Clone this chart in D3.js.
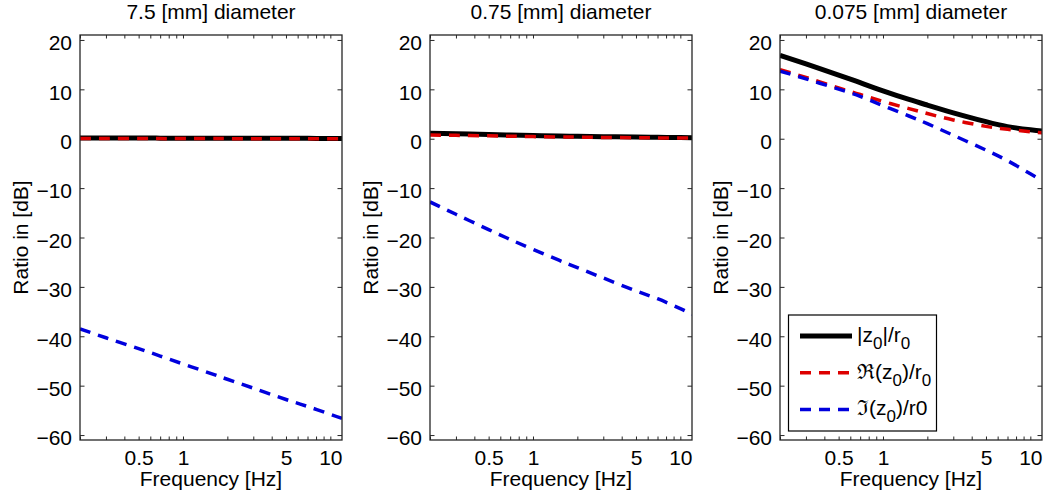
<!DOCTYPE html>
<html>
<head>
<meta charset="utf-8">
<script src="https://cdn.jsdelivr.net/npm/d3@7"></script>
<style>
  html, body { margin: 0; padding: 0; background: #fff; }
  svg { display: block; }
  text { font-family: "Liberation Sans", Arial, Helvetica, sans-serif; fill: #000; }
</style>
</head>
<body>
<svg id="chart" width="1046" height="496"></svg>
<script>
// ---------------- data ----------------
const freqs = [0.2, 0.3, 0.5, 0.7, 1, 1.5, 2, 3, 5, 7, 10, 12];
const titles = ["7.5 [mm] diameter", "0.75 [mm] diameter", "0.075 [mm] diameter"];

// 7.5 mm
const abs1 = [0.15, 0.15, 0.13, 0.12, 0.11, 0.1, 0.1, 0.09, 0.08, 0.07, 0.06, 0.06];
const re1  = [0.03, 0.03, 0.03, 0.02, 0.02, 0.02, 0.02, 0.01, 0.01, 0.01, 0.01, 0.01];
const im1  = [-38.5, -40.3, -42.5, -44.0, -45.6, -47.4, -48.7, -50.5, -52.8, -54.2, -55.8, -56.6];
// 0.75 mm
const abs2 = [1.1, 1.0, 0.85, 0.75, 0.65, 0.55, 0.5, 0.42, 0.33, 0.28, 0.24, 0.22];
const re2  = [0.75, 0.68, 0.58, 0.5, 0.43, 0.36, 0.32, 0.26, 0.2, 0.17, 0.14, 0.13];
const im2  = [-12.8, -15.3, -18.4, -20.4, -22.4, -24.6, -26.1, -28.2, -30.8, -32.4, -34.4, -35.6];
// 0.075 mm
const abs3 = [16.9, 15.14, 12.88, 11.35, 9.7, 7.95, 6.8, 5.25, 3.45, 2.45, 1.8, 1.55];
const re3  = [14.0, 12.4, 10.3, 8.95, 7.55, 6.1, 5.1, 3.8, 2.5, 1.9, 1.4, 1.2];
const im3  = [13.7, 12.12, 10.03, 8.57, 6.7, 4.6, 3.05, 0.7, -2.3, -4.45, -7.1, -8.5];

const yTicks = [-60, -50, -40, -30, -20, -10, 0, 10, 20];
const xMinorTicks = [0.2, 0.3, 0.4, 0.5, 0.6, 0.7, 0.8, 0.9, 1, 2, 3, 4, 5, 6, 7, 8, 9, 10];
const xLabelTicks = [0.5, 1, 5, 10];
const xDomain = [0.2, 12];
const yDomain = [-61, 21];

const panels = [
  { title: titles[0], abs: abs1, re: re1, im: im1 },
  { title: titles[1], abs: abs2, re: re2, im: im2 },
  { title: titles[2], abs: abs3, re: re3, im: im3 }
];

// ---------------- layout ----------------
const svg = d3.select("#chart");
const panelLefts = [80, 430, 780];
const pw = 262, plotTop = 35, plotBottom = 440;
const FS = 21;
const colors = { abs: "#000000", re: "#dd0000", im: "#0000dd" };
const axisColor = "#262626";

const y = d3.scaleLinear().domain(yDomain).range([plotBottom, plotTop]);

panels.forEach((p, i) => {
  const left = panelLefts[i];
  const x = d3.scaleLog().domain(xDomain).range([left, left + pw]);
  const g = svg.append("g");

  const clipId = "clip" + i;
  svg.append("clipPath").attr("id", clipId)
    .append("rect").attr("x", left).attr("y", plotTop).attr("width", pw).attr("height", plotBottom - plotTop);

  const xb = g.append("g").attr("transform", `translate(0,${plotBottom})`)
    .call(d3.axisBottom(x).tickValues(xMinorTicks).tickSize(-3.5).tickFormat(d => xLabelTicks.includes(d) ? d3.format("~g")(d) : ""));
  const xt = g.append("g").attr("transform", `translate(0,${plotTop})`)
    .call(d3.axisTop(x).tickValues(xMinorTicks).tickSize(-3.5).tickFormat(""));
  const yl = g.append("g").attr("transform", `translate(${left},0)`)
    .call(d3.axisLeft(y).tickValues(yTicks).tickSize(-4.5).tickFormat(d => d < 0 ? "\u2212" + Math.abs(d) : d));
  const yr = g.append("g").attr("transform", `translate(${left + pw},0)`)
    .call(d3.axisRight(y).tickValues(yTicks).tickSize(-4.5).tickFormat(""));

  [xb, xt, yl, yr].forEach(a => {
    a.select(".domain").remove();
    a.selectAll(".tick line").attr("stroke", axisColor).attr("stroke-width", 1);
  });
  xb.selectAll(".tick text")
    .attr("y", 25).attr("dy", null)
    .attr("font-size", FS).attr("font-family", "Liberation Sans, Arial, sans-serif").attr("fill", "#000");
  yl.selectAll(".tick text")
    .attr("x", -8).attr("dy", null).attr("y", 9.8)
    .attr("font-size", FS).attr("font-family", "Liberation Sans, Arial, sans-serif").attr("fill", "#000");

  const line = d3.line().x((d, j) => x(freqs[j])).y(d => y(d)).curve(d3.curveNatural);
  const lg = g.append("g").attr("clip-path", `url(#${clipId})`);
  lg.append("path").datum(p.abs).attr("d", line).attr("fill", "none")
    .attr("stroke", colors.abs).attr("stroke-width", 5);
  lg.append("path").datum(p.re).attr("d", line).attr("fill", "none")
    .attr("stroke", colors.re).attr("stroke-width", 3.5).attr("stroke-dasharray", "11,8");
  lg.append("path").datum(p.im).attr("d", line).attr("fill", "none")
    .attr("stroke", colors.im).attr("stroke-width", 3.5).attr("stroke-dasharray", "11,8");

  g.append("rect").attr("x", left).attr("y", plotTop).attr("width", pw).attr("height", plotBottom - plotTop)
    .attr("fill", "none").attr("stroke", axisColor).attr("stroke-width", 1.3);

  g.append("text").attr("x", left + pw / 2).attr("y", 19).attr("text-anchor", "middle")
    .attr("font-size", FS).text(p.title);
  g.append("text").attr("x", left + pw / 2).attr("y", 486).attr("text-anchor", "middle")
    .attr("font-size", FS).text("Frequency [Hz]");
  g.append("text").attr("transform", `translate(${left - 52},${(plotTop + plotBottom) / 2}) rotate(-90)`)
    .attr("text-anchor", "middle").attr("font-size", FS).text("Ratio in [dB]");
});

// ---------------- legend (third panel) ----------------
const leg = svg.append("g");
const lx = 788.5, ly = 315, lw = 148, lh = 116;
leg.append("rect").attr("x", lx).attr("y", ly).attr("width", lw).attr("height", lh)
  .attr("fill", "#fff").attr("stroke", "#000").attr("stroke-width", 1.2);
const entries = [
  { key: "abs", dash: null, width: 5, parts: [["|z", 0], ["0", 1], ["|/r", 0], ["0", 1]] },
  { key: "re", dash: "11,8", width: 3.5, parts: [["\u211C(z", 0], ["0", 1], [")/r", 0], ["0", 1]] },
  { key: "im", dash: "11,8", width: 3.5, parts: [["\u2111(z", 0], ["0", 1], [")/r0", 0]] }
];
entries.forEach((e, k) => {
  const yy = 336 + k * 36.7;
  const l = leg.append("line").attr("x1", 800).attr("x2", 852).attr("y1", yy).attr("y2", yy)
    .attr("stroke", colors[e.key]).attr("stroke-width", e.width);
  if (e.dash) l.attr("stroke-dasharray", e.dash);
  const t = leg.append("text").attr("x", 857).attr("y", yy + 6).attr("font-size", FS);
  let prevSub = 0;
  e.parts.forEach(([s, sub]) => {
    const dy = sub && !prevSub ? 7 : (!sub && prevSub ? -7 : 0);
    t.append("tspan").attr("dy", dy).attr("font-size", sub ? 17 : FS).text(s);
    prevSub = sub;
  });
});
</script>
</body>
</html>
